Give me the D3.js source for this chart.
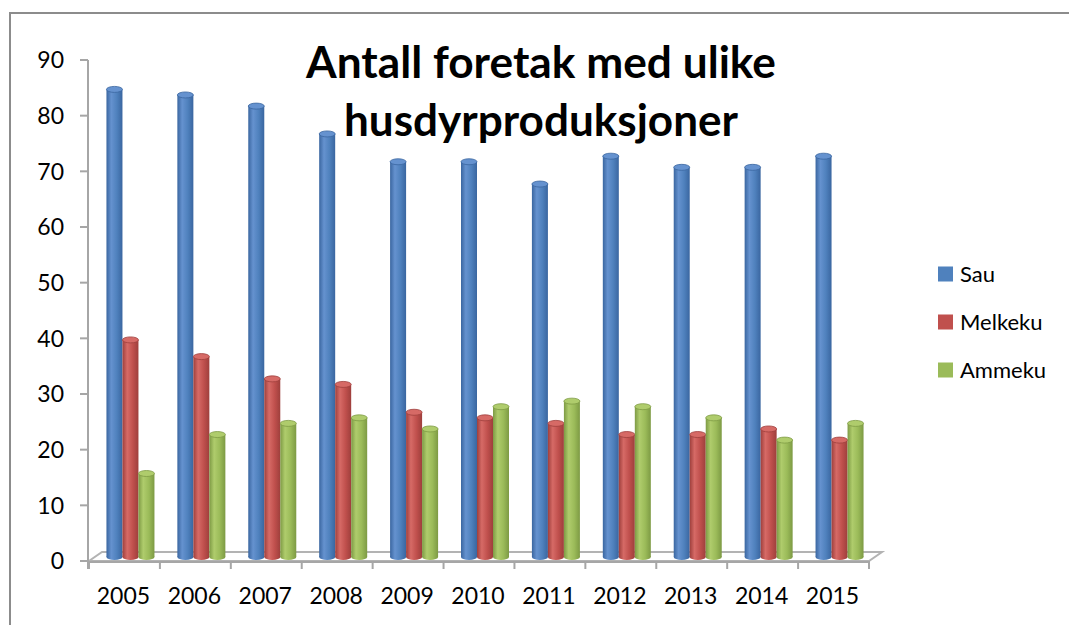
<!DOCTYPE html>
<html>
<head>
<meta charset="utf-8">
<script src="https://cdn.jsdelivr.net/npm/d3@7"></script>
<style>
  body { margin: 0; background: #fff; }
  text { font-family: Lato, "Open Sans", sans-serif; fill: #000; }
</style>
</head>
<body>
<div id="chart"></div>
<script>
// Data
var years = ["2005", "2006", "2007", "2008", "2009", "2010", "2011", "2012", "2013", "2014", "2015"];
var seriesNames = ["Sau", "Melkeku", "Ammeku"];
var sau = [84, 83, 81, 76, 71, 71, 67, 72, 70, 70, 72];
var melkeku = [39, 36, 32, 31, 26, 25, 24, 22, 22, 23, 21];
var ammeku = [15, 22, 24, 25, 23, 27, 28, 27, 25, 21, 24];
var yTicks = [0, 10, 20, 30, 40, 50, 60, 70, 80, 90];
var titleLines = ["Antall foretak med ulike", "husdyrproduksjoner"];

var seriesValues = [sau, melkeku, ammeku];
var colors = ["#4f81bd", "#c0504d", "#9bbb59"];
var dark = ["#3a66a0", "#9e3f3c", "#7d9a44"];
var light = ["#6592cf", "#d66a66", "#afcc6c"];

var width = 1069, height = 625;
var svg = d3.select("#chart").append("svg").attr("width", width).attr("height", height);

// gradients for the cylinder look
var defs = svg.append("defs");
seriesNames.forEach(function(s, i) {
  var g = defs.append("linearGradient").attr("id", "grad" + i)
    .attr("x1", "0%").attr("x2", "100%").attr("y1", "0%").attr("y2", "0%");
  g.append("stop").attr("offset", "0%").attr("stop-color", dark[i]);
  g.append("stop").attr("offset", "30%").attr("stop-color", light[i]);
  g.append("stop").attr("offset", "65%").attr("stop-color", colors[i]);
  g.append("stop").attr("offset", "100%").attr("stop-color", dark[i]);
});

// outer border (only top and left visible)
svg.append("path").attr("d", "M10,625 L10,13 L1069,13")
  .attr("fill", "none").attr("stroke", "#8c8c8c").attr("stroke-width", 2);

var x = d3.scaleBand().domain(years).range([89, 869]);
var y = d3.scaleLinear().domain([0, 90]).range([561, 60]);
var inner = d3.scaleBand().domain(seriesNames).range([0, 48]);

var depthX = 13, depthY = -9; // floor depth
var barDx = 6, barDy = -4;    // bars sit mid-depth

// floor
var y0 = y(0);
svg.append("path")
  .attr("d", "M" + x.range()[0] + "," + y0 + " L" + x.range()[1] + "," + y0 +
    " L" + (x.range()[1] + depthX) + "," + (y0 + depthY) +
    " L" + (x.range()[0] + depthX) + "," + (y0 + depthY) + " Z")
  .attr("fill", "none").attr("stroke", "#b3b3b3").attr("stroke-width", 2);

// y axis
svg.append("line").attr("x1", 88).attr("x2", 88).attr("y1", y(90)).attr("y2", y0 + 8)
  .attr("stroke", "#a6a6a6").attr("stroke-width", 2);
svg.selectAll(".ytick").data(yTicks).enter().append("line")
  .attr("x1", 80).attr("x2", 88)
  .attr("y1", function(d) { return y(d); }).attr("y2", function(d) { return y(d); })
  .attr("stroke", "#a6a6a6").attr("stroke-width", 2);
svg.selectAll(".ylab").data(yTicks).enter().append("text")
  .attr("x", 64).attr("y", function(d) { return y(d); })
  .attr("dy", "0.36em").attr("text-anchor", "end")
  .style("font-size", "23px").text(function(d) { return d; });

// x axis
svg.append("line").attr("x1", x.range()[0]).attr("x2", x.range()[1])
  .attr("y1", y0 + 1).attr("y2", y0 + 1).attr("stroke", "#a6a6a6").attr("stroke-width", 2);
var xTickPos = years.map(function(d) { return x(d); }).concat([x.range()[1]]);
svg.selectAll(".xtick").data(xTickPos).enter().append("line")
  .attr("x1", function(d) { return d; }).attr("x2", function(d) { return d; })
  .attr("y1", y0).attr("y2", y0 + 8)
  .attr("stroke", "#a6a6a6").attr("stroke-width", 2);
svg.selectAll(".xlab").data(years).enter().append("text")
  .attr("x", function(d) { return x(d) + x.bandwidth() / 2 - 1; })
  .attr("y", 604).attr("text-anchor", "middle")
  .style("font-size", "23px").text(function(d) { return d; });

// cylinders
var ry = 3;
years.forEach(function(yr, j) {
  seriesNames.forEach(function(s, i) {
    var v = seriesValues[i][j];
    var w = inner.bandwidth();
    var bx = x(yr) + x.bandwidth() / 2 + barDx - 24 + inner(s);
    var top = y(v) + barDy, base = y(0) + barDy;
    var g = svg.append("g");
    g.append("ellipse").attr("cx", bx + w / 2).attr("cy", base).attr("rx", w / 2).attr("ry", ry)
      .attr("fill", "url(#grad" + i + ")");
    g.append("rect").attr("x", bx).attr("y", top).attr("width", w).attr("height", base - top)
      .attr("fill", "url(#grad" + i + ")");
    g.append("ellipse").attr("cx", bx + w / 2).attr("cy", top).attr("rx", w / 2).attr("ry", ry)
      .attr("fill", light[i]).attr("stroke", dark[i]).attr("stroke-width", 0.8);
  });
});

// title
svg.selectAll(".title").data(titleLines).enter().append("text")
  .attr("x", 541).attr("y", function(d, i) { return 78 + i * 58; })
  .attr("text-anchor", "middle")
  .attr("textLength", function(d, i) { return i == 0 ? 470 : 394; })
  .attr("lengthAdjust", "spacingAndGlyphs")
  .style("font-size", "43px").style("font-weight", "bold")
  .text(function(d) { return d; });

// legend
var legend = svg.selectAll(".legend").data(seriesNames).enter().append("g")
  .attr("transform", function(d, i) { return "translate(938," + (274 + i * 48) + ")"; });
legend.append("rect").attr("x", 0).attr("y", -7.5).attr("width", 15).attr("height", 15)
  .attr("fill", function(d, i) { return colors[i]; });
legend.append("text").attr("x", 22).attr("dy", "0.36em")
  .style("font-size", "22px").text(function(d) { return d; });
</script>
</body>
</html>
